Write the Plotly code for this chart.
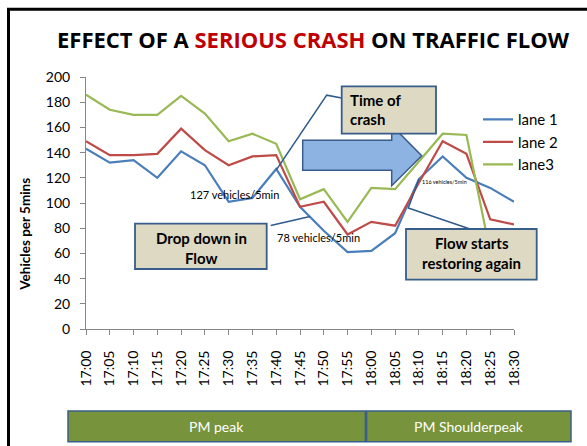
import plotly.graph_objects as go

# ---- data ----
times = ["17:00", "17:05", "17:10", "17:15", "17:20", "17:25", "17:30", "17:35", "17:40",
         "17:45", "17:50", "17:55", "18:00", "18:05", "18:10", "18:15", "18:20", "18:25", "18:30"]
lane1 = [143, 132, 134, 120, 141, 130, 101, 104, 127, 97, 78, 61, 62, 76, 119, 137, 120, 112, 101]
lane2 = [149, 138, 138, 139, 159, 142, 130, 137, 138, 97, 101, 75, 85, 82, 116, 149, 139, 87, 83]
lane3 = [186, 174, 170, 170, 185, 171, 149, 155, 147, 103, 111, 85, 112, 111, 133, 155, 154, 61, 60]
series_names = ["lane 1", "lane 2", "lane3"]
series_colors = ["#4A7EBB", "#BE4B48", "#98B954"]
periods = ["PM peak", "PM Shoulderpeak"]

W, H = 587, 446
L, R, T, B = 86, 514, 77.3, 329.3
FONT = "Lato"


def px(x):
    return (x - L) / (R - L)


def py(y):
    return (B - y) / (B - T)


fig = go.Figure()
for name, vals, col in zip(series_names, [lane1, lane2, lane3], series_colors):
    fig.add_trace(go.Scatter(x=times, y=vals, mode="lines", name=name,
                             line=dict(color=col, width=2.2)))

shapes = []
annots = []

# outer frame
shapes.append(dict(type="rect", xref="paper", yref="paper", x0=px(8.5), x1=px(700),
                   y0=py(700), y1=py(9.5), line=dict(color="black", width=3),
                   fillcolor="rgba(0,0,0,0)", layer="above"))

BOX_FILL = "#DDD9C3"
BOX_LINE = "#385D8A"
CALL = "#2F5A8C"


def box(x0, y0, x1, y1, fill=BOX_FILL, line=BOX_LINE, lw=1.8):
    shapes.append(dict(type="rect", xref="paper", yref="paper", x0=px(x0), x1=px(x1),
                       y0=py(y1), y1=py(y0), fillcolor=fill, line=dict(color=line, width=lw),
                       layer="above"))


def poly(points, color=CALL, width=1.5):
    d = "M " + " L ".join(f"{px(a):.5f},{py(b):.5f}" for a, b in points)
    shapes.append(dict(type="path", xref="paper", yref="paper", path=d,
                       line=dict(color=color, width=width), layer="above"))


def text(x, y, s, size=14, color="black", bold=False, xanchor="center", align="center",
         angle=0, family=FONT):
    annots.append(dict(x=px(x), y=py(y), xref="paper", yref="paper", text=s, showarrow=False,
                       xanchor=xanchor, yanchor="middle", align=align, textangle=angle,
                       font=dict(family=family, size=size, color=color,
                                 weight="bold" if bold else "normal")))


# callout lines
poly([(276.5, 170), (326.7, 95.5), (341.7, 98.3)])
poly([(270.7, 225.7), (310, 216.7)])
poly([(470, 229.3), (408.3, 208.3), (419, 179.3)])

# block arrow
arrow = [(302.7, 140.5), (391.7, 140.5), (391.7, 125.7), (421.7, 156), (391.7, 186),
         (391.7, 170.5), (302.7, 170.5)]
d = "M " + " L ".join(f"{px(a):.5f},{py(b):.5f}" for a, b in arrow) + " Z"
shapes.append(dict(type="path", xref="paper", yref="paper", path=d, fillcolor="#8DB3E2",
                   line=dict(color="#385D8A", width=1.5), layer="above"))

# callout boxes
box(341.7, 86.7, 436, 134)
text(348, 100, "Time of", 15, bold=True, xanchor="left")
text(348, 119.5, "crash", 15, bold=True, xanchor="left")
box(135, 224, 266.7, 269.3)
text(201, 238, "Drop down in", 15, bold=True)
text(201, 258, "Flow", 15, bold=True)
box(406, 229.3, 536.7, 280)
text(471.5, 243, "Flow starts", 15, bold=True)
text(471.5, 263, "restoring again", 15, bold=True)

# data labels
text(234, 194.5, "127 vehicles/5min", 11)
text(318, 237.5, "78 vehicles/5min", 11)
text(444.5, 182.7, "116 vehicles/5min", 5.5)

# period bars
box(68, 411.4, 365.4, 442, fill="#77933C", line="#3A5F8B", lw=1.5)
box(366.6, 411.4, 571, 442, fill="#77933C", line="#3A5F8B", lw=1.5)
text(216.7, 427, periods[0], 14, color="white")
text(468.8, 427, periods[1], 14, color="white")

# title
text(313, 39.5, "EFFECT OF A <span style='color:#C00000'>SERIOUS CRASH</span> ON TRAFFIC FLOW",
     22, bold=True, family="Open Sans")
# y axis title
text(25, 235, "Vehicles per 5mins", 13.5, bold=True, angle=-90)

fig.update_layout(
    width=W, height=H,
    margin=dict(l=L, r=W - R, t=T, b=H - B, autoexpand=False),
    paper_bgcolor="white", plot_bgcolor="white",
    font=dict(family=FONT, size=14, color="black"),
    shapes=shapes, annotations=annots,
    showlegend=True,
    legend=dict(x=px(478), y=py(103.5), xanchor="left", yanchor="top",
                font=dict(family=FONT, size=15, color="black"),
                bgcolor="rgba(0,0,0,0)", tracegroupgap=0, itemwidth=30),
)
fig.update_xaxes(type="category", range=[0, len(times) - 1], showline=True, linecolor="#868686",
                 linewidth=1, ticks="outside", ticklen=5, tickcolor="#868686", tickangle=-90,
                 ticklabelstandoff=10,
                 showgrid=False, zeroline=False, tickfont=dict(family=FONT, size=14))
fig.update_yaxes(range=[0, 200], dtick=20, showline=True, linecolor="#868686", linewidth=1,
                 ticks="outside", ticklen=5, tickcolor="#868686", showgrid=False,
                 ticklabelstandoff=7,
                 zeroline=False, tickfont=dict(family=FONT, size=14))

fig.write_html("out.html", config={"displayModeBar": False},
               post_script="document.body.style.margin='0';")
